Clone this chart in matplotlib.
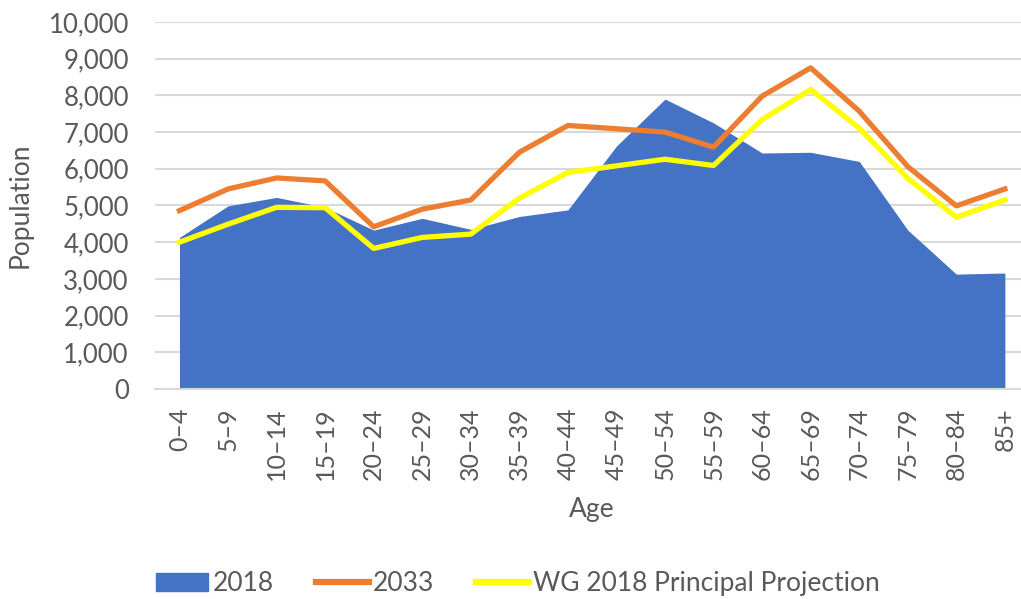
import numpy as np
import matplotlib.pyplot as plt
from matplotlib.patches import Patch
from matplotlib.lines import Line2D

# Age groups and population values
ages = ["0–4", "5–9", "10–14", "15–19", "20–24", "25–29", "30–34", "35–39",
        "40–44", "45–49", "50–54", "55–59", "60–64", "65–69", "70–74",
        "75–79", "80–84", "85+"]
pop_2018 = [4130, 4990, 5220, 4950, 4330, 4650, 4350, 4700, 4880, 6620,
            7900, 7250, 6430, 6450, 6200, 4330, 3130, 3160]
pop_2033 = [4860, 5450, 5750, 5670, 4420, 4900, 5150, 6450, 7180, 7090,
            7000, 6590, 7980, 8750, 7570, 6060, 4990, 5450]
wg_proj = [4000, 4490, 4950, 4940, 3830, 4130, 4220, 5200, 5900, 6080,
           6260, 6090, 7340, 8160, 7110, 5740, 4680, 5150]

blue = "#4472C4"
orange = "#ED7D31"
yellow = "#FFFF00"
grey = "#595959"
plt.rcParams['font.family'] = ['Lato', 'DejaVu Sans']

fig = plt.figure(figsize=(10.21, 5.99), dpi=100)
ax = fig.add_axes([0.152, 0.3506, 0.856, 0.6127])

x = np.arange(len(ages))
ax.fill_between(x, 0, pop_2018, color=blue, linewidth=0, zorder=2)
ax.plot(x, pop_2033, color=orange, linewidth=3.8, zorder=3)
ax.plot(x, wg_proj, color=yellow, linewidth=3.8, zorder=4)

ax.set_xlim(-0.5, len(ages) - 0.5)
ax.set_ylim(0, 10000)
ax.set_yticks(np.arange(0, 10001, 1000))
ax.set_yticklabels([f"{v:,}" for v in range(0, 10001, 1000)], fontsize=18.5, color=grey)
ax.set_xticks(x)
ax.set_xticklabels(ages, rotation=90, fontsize=18, color=grey)
ax.tick_params(axis='both', length=0)
ax.tick_params(axis='x', pad=13)
ax.tick_params(axis='y', pad=19)
ax.grid(axis='y', color="#d9d9d9", linewidth=1.5, zorder=0)
ax.set_axisbelow(True)
for s in ["top", "right", "left"]:
    ax.spines[s].set_visible(False)
ax.spines["bottom"].set_color("#d9d9d9")
ax.spines["bottom"].set_linewidth(1.5)

ax.set_xlabel("Age", fontsize=19, color=grey, labelpad=12)
ax.set_ylabel("Population", fontsize=19, color=grey)
ax.yaxis.set_label_coords(-0.14, 0.5)

handles = [Patch(color=blue), Line2D([], [], color=orange, linewidth=4.5),
           Line2D([], [], color=yellow, linewidth=4.5)]
fig.legend(handles, ["2018", "2033", "WG 2018 Principal Projection"],
           loc="lower center", bbox_to_anchor=(0.507, -0.035), ncol=3,
           frameon=False, fontsize=19, handlelength=2.0, handletextpad=0.15,
           columnspacing=1.6, labelcolor=grey)

fig.savefig("out.png", dpi=100)
